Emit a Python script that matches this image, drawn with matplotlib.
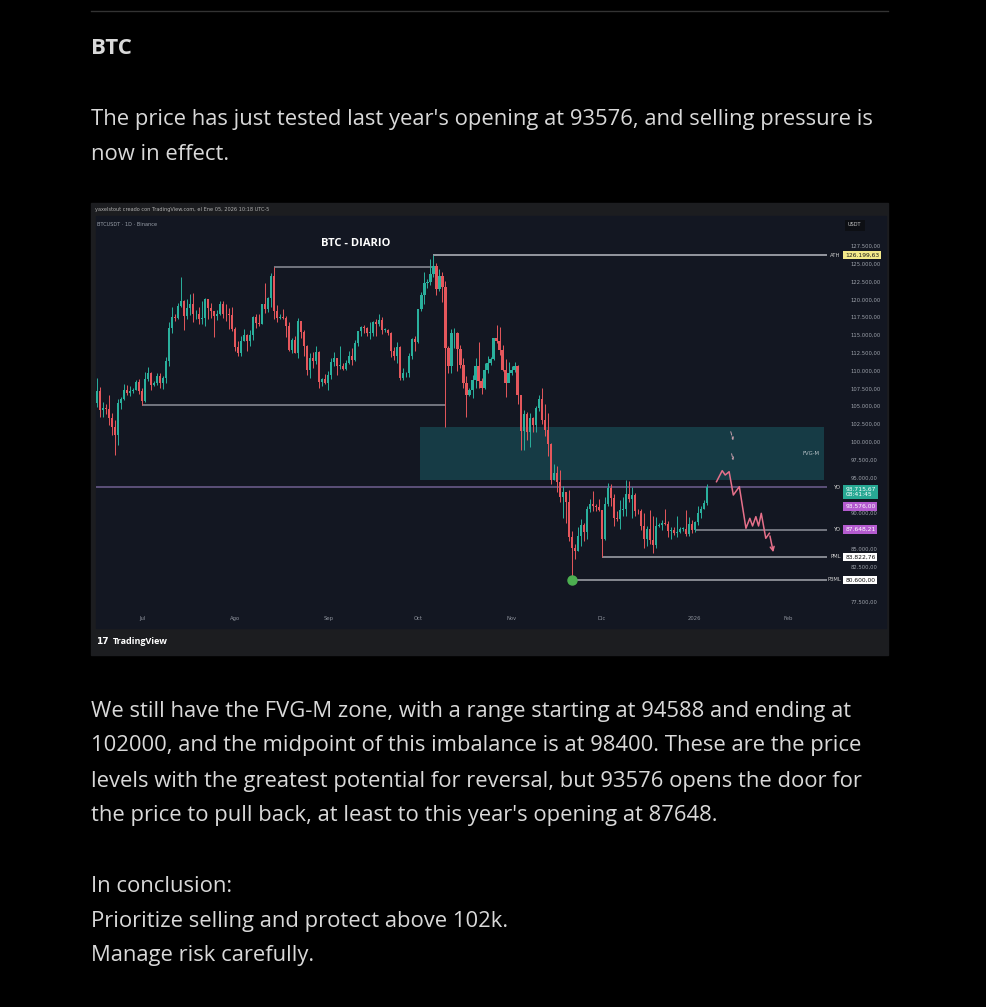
import matplotlib
matplotlib.use('Agg')
import matplotlib.pyplot as plt
from matplotlib.patches import Rectangle
from matplotlib import transforms

# daily candles, 2025-06-16 .. 2026-01-05 (thousands USDT), day 0 = 1 Jul 2025
first_day = -15
first_open = 105.5
closes = [
    # Jun 16-30
    107.1, 104.5, 104.8, 104.6, 103.3, 102.1, 100.9, 105.4, 106.0, 107.3, 106.9, 107.1, 107.3, 108.4, 107.1,
    # Jul
    105.7, 108.8, 109.6, 108.0, 108.2, 109.2, 108.2, 108.9, 111.3, 115.9, 117.5, 117.4, 119.0, 119.8, 117.7, 118.8,
    119.3, 117.9, 117.9, 117.3, 117.4, 120.0, 118.8, 118.3, 117.6, 117.9, 119.4, 118.0, 117.9, 117.8, 115.8,
    # Aug
    113.3, 112.5, 114.2, 115.0, 114.1, 115.0, 117.5, 116.7, 116.5, 119.3, 118.7, 120.2, 123.3, 118.3, 117.4, 117.5,
    117.4, 116.2, 112.9, 114.3, 112.5, 116.9, 115.4, 113.5, 110.1, 111.8, 111.3, 112.6, 108.4, 108.8, 108.3,
    # Sep
    109.3, 111.2, 111.7, 110.7, 110.7, 110.2, 111.1, 112.1, 111.5, 113.9, 115.5, 116.1, 115.9, 115.3, 115.3,
    116.8, 116.5, 117.1, 115.7, 115.7, 115.2, 112.7, 112.0, 113.3, 109.0, 109.6, 109.6, 112.1, 114.4, 114.0,
    # Oct
    118.6, 120.6, 122.3, 122.4, 123.5, 124.7, 121.4, 123.3, 121.7, 113.2, 110.6, 115.2, 115.3, 113.0, 110.8, 108.2,
    106.5, 107.2, 108.6, 110.6, 108.5, 107.6, 110.1, 111.0, 111.6, 114.5, 114.1, 112.9, 110.1, 108.3, 109.6,
    # Nov
    110.1, 110.6, 106.5, 101.5, 103.9, 101.3, 103.3, 102.3, 104.7, 106.0, 103.0, 101.6, 99.7, 94.6, 95.6,
    94.3, 92.2, 92.9, 91.5, 86.6, 85.1, 84.7, 86.8, 88.3, 87.3, 90.5, 91.3, 90.9, 90.8, 90.4,
    # Dec
    86.3, 91.3, 93.5, 92.1, 89.3, 89.2, 90.4, 90.6, 92.7, 92.0, 92.5, 90.3, 90.2, 88.2, 86.4, 87.8,
    86.2, 85.5, 88.1, 88.3, 88.6, 88.5, 87.4, 87.6, 87.2, 87.3, 87.8, 87.8, 87.1, 88.4, 87.6,
    # Jan
    88.7, 90.0, 90.6, 91.4, 93.7,
]
highs = [
    108.9, 107.7, 105.6, 105.3, 106.5, 104.0, 103.0, 106.0, 106.3, 108.1, 108.0, 107.8, 107.6, 108.6, 108.8,
    107.5, 109.8, 110.5, 109.8, 108.5, 109.7, 109.7, 109.2, 111.9, 116.8, 118.9, 118.0, 119.5, 123.2, 119.9, 120.0,
    120.8, 120.9, 118.5, 118.9, 119.7, 120.2, 120.1, 119.5, 118.0, 118.5, 119.8, 119.8, 119.3, 118.8, 118.9,
    116.1, 114.1, 114.8, 115.8, 115.1, 115.7, 117.7, 117.9, 117.9, 119.3, 122.3, 120.3, 123.7, 124.5, 119.2, 117.9,
    118.6, 117.6, 116.8, 114.6, 114.8, 117.4, 117.0, 115.7, 113.6, 112.4, 112.6, 113.5, 112.7, 108.9, 109.5,
    109.9, 111.8, 112.6, 111.8, 113.4, 111.0, 111.5, 112.8, 113.2, 114.3, 115.5, 116.3, 116.4, 116.1, 116.8,
    117.0, 117.3, 117.9, 117.5, 116.0, 115.8, 115.4, 113.3, 114.0, 113.4, 110.3, 109.8, 112.4, 114.5, 114.8,
    118.7, 121.0, 123.9, 122.9, 125.7, 126.2, 125.1, 124.2, 123.8, 122.5, 113.4, 115.8, 116.0, 115.4, 113.6, 111.8,
    109.2, 107.5, 109.4, 111.7, 114.0, 109.0, 111.0, 112.0, 111.9, 114.6, 116.4, 116.1, 113.6, 111.6, 111.2,
    110.6, 111.2, 110.8, 106.6, 104.5, 104.2, 104.1, 103.4, 105.0, 106.6, 107.5, 105.3, 104.0, 99.8, 96.8,
    96.6, 96.0, 93.8, 92.9, 93.2, 87.5, 85.6, 88.0, 89.2, 88.6, 91.0, 91.9, 93.1, 91.2, 92.0,
    90.4, 92.3, 94.2, 94.1, 92.7, 90.3, 91.8, 92.3, 94.6, 94.5, 93.6, 92.8, 90.6, 90.5, 90.0, 88.2,
    90.4, 89.5, 89.4, 88.6, 89.0, 90.6, 88.9, 88.0, 88.0, 89.6, 88.0, 88.0, 90.4, 89.4, 89.0,
    88.9, 91.0, 90.9, 91.8, 94.0,
]
lows = [
    104.9, 103.4, 103.5, 103.9, 102.4, 101.0, 98.2, 99.6, 104.6, 105.9, 106.6, 106.4, 106.9, 107.2, 106.7,
    105.1, 105.6, 108.5, 107.3, 107.8, 107.9, 107.5, 107.4, 108.3, 110.6, 115.2, 116.9, 117.2, 118.9, 115.7, 117.3,
    117.8, 116.8, 117.3, 116.5, 116.5, 116.2, 117.3, 117.4, 114.7, 117.1, 117.8, 117.4, 116.9, 115.8, 115.5,
    112.7, 112.0, 112.0, 114.1, 112.7, 113.4, 114.3, 115.9, 116.3, 116.5, 118.1, 118.2, 118.9, 117.2, 116.8, 117.2,
    117.3, 114.7, 112.7, 112.4, 112.4, 111.7, 114.6, 112.0, 109.3, 109.0, 110.4, 110.9, 107.5, 107.8, 108.1,
    107.3, 108.8, 110.7, 109.3, 110.2, 110.0, 110.0, 110.9, 110.8, 111.4, 113.4, 114.8, 115.2, 114.8, 114.4,
    114.8, 114.8, 116.3, 115.1, 115.4, 115.0, 111.9, 111.5, 111.0, 108.6, 108.6, 109.1, 109.1, 111.6, 112.7,
    113.9, 118.3, 119.3, 121.6, 122.0, 123.1, 120.6, 121.1, 119.6, 102.0, 109.6, 109.7, 113.2, 109.9, 110.3, 107.5,
    103.5, 106.4, 106.1, 107.5, 107.5, 106.7, 107.4, 109.7, 110.8, 111.5, 113.8, 112.2, 109.9, 106.3, 108.6,
    109.4, 109.8, 105.3, 98.9, 98.9, 100.3, 99.3, 101.3, 101.4, 104.3, 102.5, 100.8, 98.0, 94.0, 94.6,
    93.0, 91.6, 89.3, 88.6, 86.1, 80.6, 83.5, 84.6, 85.3, 86.1, 86.3, 90.1, 90.2, 90.2, 90.3,
    83.8, 86.2, 91.0, 90.9, 88.1, 88.9, 87.7, 89.6, 89.6, 91.5, 89.3, 89.5, 89.8, 87.6, 85.1, 85.3,
    85.6, 84.4, 85.1, 88.0, 87.6, 88.3, 86.6, 86.4, 86.9, 86.6, 87.2, 87.5, 86.8, 86.8, 87.2,
    87.3, 88.3, 89.3, 90.5, 91.1,
]

# horizontal levels drawn on the chart
level_values = [126199.63, 124474.0, 105100.0, 93576.0, 87648.21, 83822.76, 80600.0]
level_start = [97, 44, 0, -16, 184, 153, 143]
level_end = [228, 97, 101, 228, 228, 228, 228]
level_names = ['ATH', '', '', 'YO', 'YO', 'PML', 'P3ML']

# FVG-M zone
fvg_low, fvg_high = 94588.0, 102000.0
fvg_start, fvg_end = 92.5, 227

# projected path (day, price)
proj_days = [191.2, 193.1, 194.1, 195.4, 196.8, 198.8, 201.0, 202.3, 203.2, 204.3, 205.2, 206.1, 207.6, 208.8, 210.3]
proj_prices = [94380, 95930, 95320, 95790, 92510, 93680, 87840, 89240, 88160, 89470, 88160, 89940, 86430, 87140, 84090]

month_days = [0, 31, 62, 92, 123, 153, 184, 215]
month_labels = ['Jul', 'Ago', 'Sep', 'Oct', 'Nov', 'Dic', '2026', 'Feb']
price_ticks = [127500, 125000, 122500, 120000, 117500, 115000, 112500, 110000, 107500,
               105000, 102500, 100000, 97500, 95000, 90000, 85000, 82500, 77500]

last_price = 93715.67
low_day, low_price = 143, 80600.0

intro = ["The price has just tested last year's opening at 93576, and selling pressure is",
         "now in effect."]
body = ["We still have the FVG-M zone, with a range starting at 94588 and ending at",
        "102000, and the midpoint of this imbalance is at 98400. These are the price",
        "levels with the greatest potential for reversal, but 93576 opens the door for",
        "the price to pull back, at least to this year's opening at 87648.",
        "",
        "In conclusion:",
        "Prioritize selling and protect above 102k.",
        "Manage risk carefully."]


def fx(px):
    return px / 986


def fy(py):
    return 1 - py / 1007


def euro(v):
    return f"{v:,.2f}".replace(',', 'X').replace('.', ',').replace('X', '.')


plt.rcParams['font.family'] = ['Open Sans', 'DejaVu Sans']
fig = plt.figure(figsize=(9.86, 10.07), dpi=100, facecolor='black')

TXT = '#d9d9d9'
fig.add_artist(plt.Line2D([fx(91), fx(888)], [fy(11), fy(11)], color='#333333', lw=1))
fig.text(fx(91), fy(49), 'BTC', color=TXT, fontsize=16, fontweight='bold', va='center')
for i, line in enumerate(intro):
    fig.text(fx(91), fy(120 + 35 * i), line, color=TXT, fontsize=15.8, va='center')
for i, line in enumerate(body):
    fig.text(fx(91), fy(711 + 35 * i), line, color=TXT, fontsize=15.8, va='center')

# screenshot frame
PANE = '#131722'
STRIP = '#1c1d20'
fig.add_artist(Rectangle((fx(91), fy(655)), fx(888) - fx(91), fy(203) - fy(655), color=STRIP,
                         transform=fig.transFigure, zorder=-5))
fig.add_artist(Rectangle((fx(96), fy(628)), fx(886) - fx(96), fy(216) - fy(628), color=PANE,
                         transform=fig.transFigure, zorder=-4))
fig.text(fx(95), fy(210), 'yaxelstout creado con TradingView.com, el Ene 05, 2026 10:18 UTC-5',
         color='#b0b0b0', fontsize=3.6, va='center', family='DejaVu Sans')
fig.text(fx(97), fy(224), 'BTCUSDT · 1D · Binance', color='#9aa0aa', fontsize=3.6, va='center', family='DejaVu Sans')
fig.text(fx(96), fy(641), '17', color='white', fontsize=6.5, fontweight='bold', va='center', family='DejaVu Sans')
fig.text(fx(113), fy(641), 'TradingView', color='white', fontsize=6.5, fontweight='bold', va='center')

ax = fig.add_axes([fx(96), fy(610), fx(843) - fx(96), fy(216) - fy(610)])
ax.set_facecolor(PANE)
for s in ax.spines.values():
    s.set_visible(False)
ax.set_xlim(-15.3, 233.3)
ax.set_ylim(76362, 131699)

UP, DOWN = '#2ab09d', '#e5575c'
opens = [first_open] + closes[:-1]
for i, (o, h, l, c) in enumerate(zip(opens, highs, lows, closes)):
    d = first_day + i
    col = UP if c >= o else DOWN
    ax.vlines(d, l * 1000, h * 1000, color=col, lw=0.7, zorder=3)
    ax.bar(d, max(abs(c - o), 0.08) * 1000, bottom=min(o, c) * 1000, width=0.72, color=col, zorder=3, lw=0)

ax.add_patch(Rectangle((fvg_start, fvg_low), fvg_end - fvg_start, fvg_high - fvg_low,
                       facecolor='#163b45', edgecolor='none', zorder=1))
ax.text(fvg_end - 1.5, (fvg_low + fvg_high) / 2, 'FVG-M', color='#b9c2c8', fontsize=3.8,
        ha='right', va='center', family='DejaVu Sans', zorder=4)

lv_colors = ['#b8bbc2', '#8d9099', '#8d9099', '#6f6090', '#8d9099', '#a4a7ae', '#a4a7ae']
ytrans = transforms.blended_transform_factory(ax.transAxes, ax.transData)
for v, s, e, name, col in zip(level_values, level_start, level_end, level_names, lv_colors):
    ax.hlines(v, s, e, color=col, lw=1.1, zorder=2)
    if name:
        ax.text(0.997, v, name, transform=ytrans, color='#d0d0d0', fontsize=3.8,
                ha='right', va='center', family='DejaVu Sans')

ax.plot(low_day, low_price, 'o', color='#4caf50', ms=6.5, zorder=5)

PINK = '#e6708a'
ax.plot(proj_days[:-1], proj_prices[:-1], color=PINK, lw=1.1, zorder=5)
ax.annotate('', xy=(proj_days[-1], proj_prices[-1]), xytext=(proj_days[-2], proj_prices[-2]),
            arrowprops=dict(arrowstyle='->', color=PINK, lw=1.1, mutation_scale=7), zorder=5)
for d0, p0, d1, p1 in [(195.7, 101780, 197.0, 99820), (196.0, 98690, 197.0, 97010)]:
    ax.annotate('', xy=(d1, p1), xytext=(d0, p0),
                arrowprops=dict(arrowstyle='->', color='#c9a0ad', lw=0.7, ls='--', mutation_scale=4), zorder=5)

ax.set_xticks(month_days)
ax.set_xticklabels(month_labels)
ax.tick_params(axis='x', length=0, pad=4.3, labelsize=3.8, labelcolor='#8d929c')
ax.yaxis.tick_right()
ax.set_yticks(price_ticks)
ax.set_yticklabels([euro(v) for v in price_ticks])
ax.tick_params(axis='y', length=0, pad=5.5, labelsize=3.8, labelcolor='#9da2ab')
for lab in ax.get_xticklabels() + ax.get_yticklabels():
    lab.set_family('DejaVu Sans')

# price tags on the scale
tag_x = 1.003
tags = [
    (126199.63, euro(126199.63), '#f3e98a', '#1a1a1a', 0),
    (last_price, euro(last_price) + '\n08:41:45', '#27a893', 'white', -4.2),
    (93576.0, euro(93576.0), '#b45bcf', 'white', -13.8),
    (87648.21, euro(87648.21), '#b45bcf', 'white', 0),
    (83822.76, euro(83822.76), 'white', '#111111', 0),
    (80600.0, euro(80600.0), 'white', '#111111', 0),
]
for v, s, bg, fg, off in tags:
    tr = transforms.offset_copy(ytrans, fig=fig, y=off, units='points')
    ax.text(tag_x, v, s, transform=tr, color=fg, fontsize=4.3, ha='left', va='center',
            family='DejaVu Sans', linespacing=1.05, clip_on=False, zorder=6,
            bbox=dict(boxstyle='square,pad=0.3', fc=bg, ec='none'))

fig.text(fx(848), fy(225), 'USDT', color='#c8c8c8', fontsize=3.6, va='center', family='DejaVu Sans',
         bbox=dict(boxstyle='square,pad=0.6', fc='#0d0f14', ec='none'))
fig.text(fx(356), fy(244), 'BTC - DIARIO', color='white', fontsize=8, fontweight='bold', ha='center', va='center')

fig.savefig('out.png', dpi=100, facecolor='black')
